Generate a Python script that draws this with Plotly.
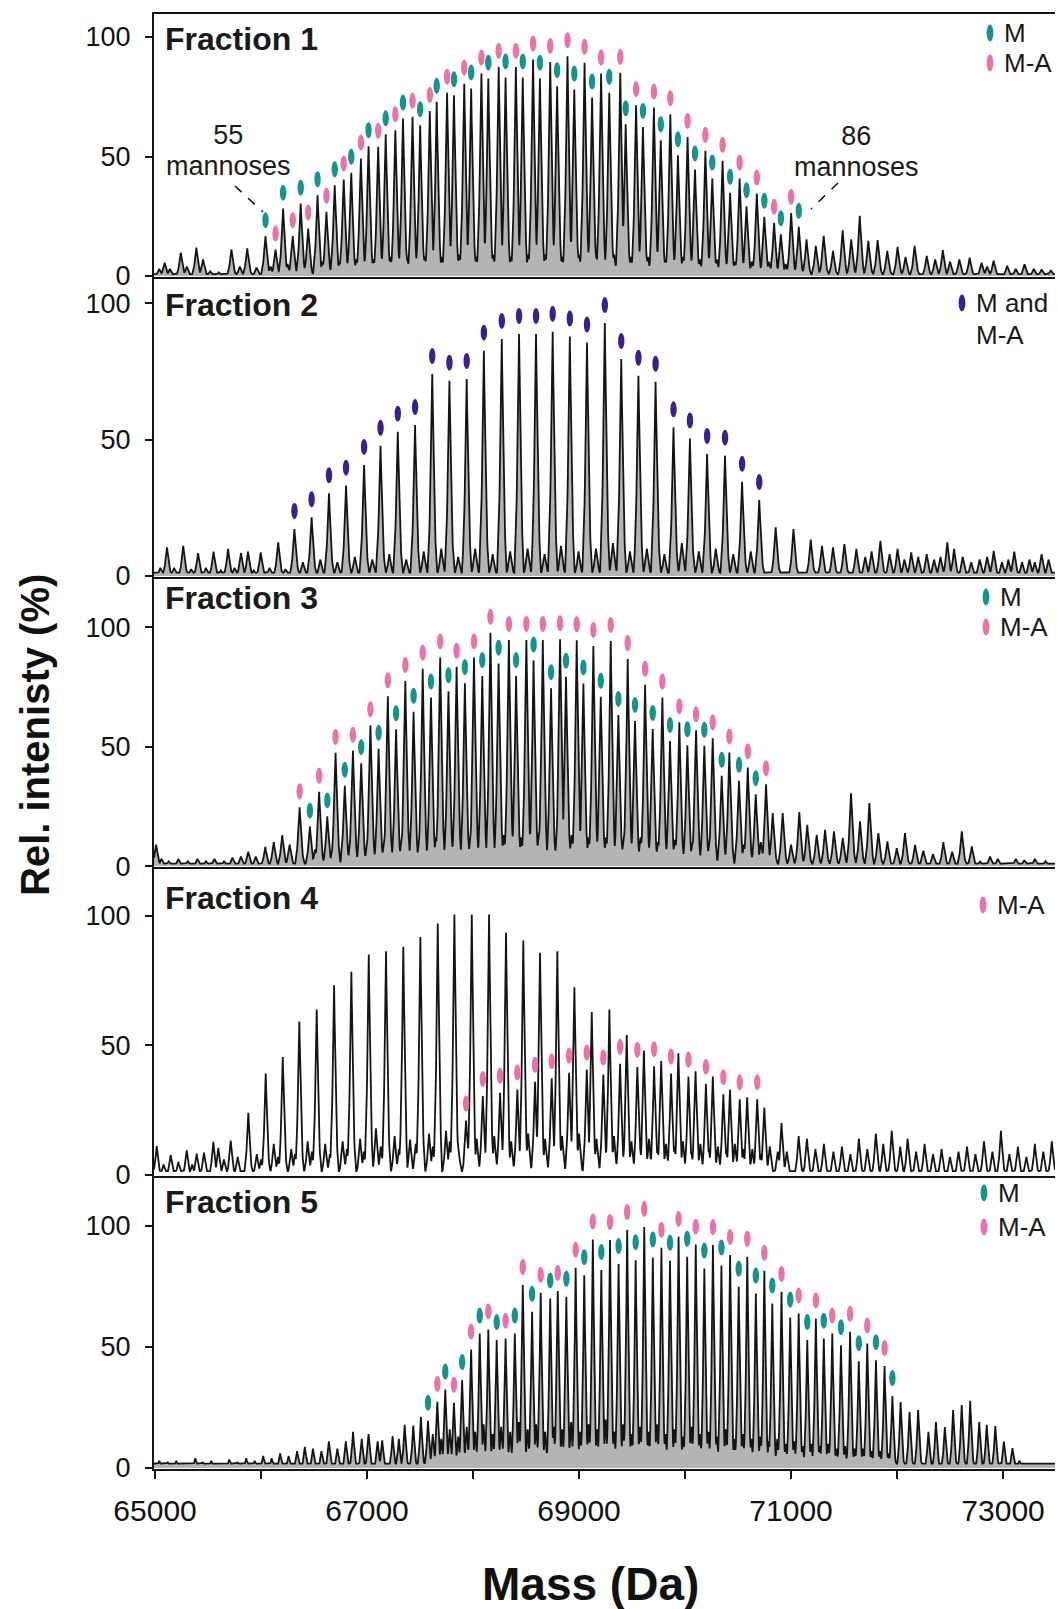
import numpy as np
import plotly.graph_objects as go

# ====================== DATA ======================
# ---- Fraction 1 ----
f1_m_mass = [66042, 66208, 66374, 66533, 66695, 66851, 67014, 67176, 67339, 67501, 67657, 67820, 67982, 68144,
             68307, 68469, 68631, 68793, 68955, 69123, 69285, 69440, 69603, 69771, 69933, 70094, 70257, 70425,
             70580, 70748, 70904, 71073]
f1_m_int = [16.7, 28.2, 30.3, 33.8, 38.0, 43.2, 54.3, 59.3, 65.9, 63.1, 72.9, 75.6, 78.5, 82.6, 83.1, 83.1,
            82.6, 79.4, 78.0, 74.7, 76.7, 63.5, 62.4, 56.8, 50.5, 44.6, 40.8, 34.8, 29.2, 24.8, 17.5, 20.6]
f1_ma_mass = [66137, 66299, 66445, 66617, 66780, 66942, 67105, 67267, 67429, 67592, 67755, 67917, 68079, 68242,
              68404, 68566, 68728, 68891, 69052, 69208, 69389, 69538, 69706, 69861, 70024, 70192, 70354, 70515,
              70677, 70840, 71001]
f1_ma_int = [11.1, 16.7, 19.9, 26.9, 40.4, 49.2, 54.1, 61.0, 66.6, 69.1, 76.7, 80.5, 84.7, 87.5, 87.5, 90.6,
             89.6, 92.0, 89.2, 84.7, 85.0, 71.5, 70.5, 67.7, 58.2, 52.4, 48.2, 40.8, 34.5, 22.3, 26.4]
f1_other_mass = [65040, 65091, 65140, 65243, 65300, 65390, 65453, 65520, 65600, 65721, 65800, 65870, 65958,
                 66090, 66250, 66420, 66580, 66740, 66900, 67060, 67220, 67380, 67545, 67705, 67870, 68030,
                 68190, 68355, 68520, 68680, 68840, 69000, 69165, 69330, 69490, 69650, 69815, 69980, 70140,
                 70300, 70470, 70630, 70790, 70950,
                 71146, 71234, 71308, 71396, 71487, 71568, 71648, 71729, 71817, 71908, 72005, 72080, 72166,
                 72280, 72360, 72432, 72500, 72588, 72685, 72798, 72850, 72911, 73040, 73120, 73203, 73290,
                 73364, 73450]
f1_other_int = [3.0, 5.6, 3.0, 9.8, 4.0, 11.9, 7.0, 2.0, 1.5, 11.2, 4.0, 11.6, 3.6,
                4, 5, 5, 6, 6, 7, 7, 8, 7, 8, 8, 9, 8, 9, 8, 9, 9, 8, 9, 8, 9, 8, 8, 7, 8, 7, 7, 6, 6, 6, 5,
                15.4, 12.6, 16.8, 10.5, 19.1, 15.4, 25.2, 14.7, 15.0, 10.5, 12.2, 8.0, 12.6,
                8.4, 7.0, 10.8, 6.0, 7.0, 7.7, 5.6, 4.0, 6.4, 4.3, 3.0, 4.9, 3.0, 2.8, 2.5]

# ---- Fraction 2 (M and M-A unresolved) ----
f2_mma_mass = [66315, 66477, 66641, 66802, 66972, 67127, 67290, 67453, 67615, 67777, 67940, 68102, 68271, 68434,
               68594, 68751, 68913, 69075, 69243, 69398, 69560, 69722, 69891, 70046, 70208, 70377, 70538, 70700]
f2_mma_int = [17.2, 21.5, 30.3, 33.1, 40.7, 47.7, 52.9, 55.3, 74.0, 71.6, 72.2, 82.6, 86.9, 88.7, 88.7, 89.5,
              87.8, 85.6, 92.7, 79.5, 73.4, 71.2, 54.5, 50.4, 44.7, 44.1, 34.5, 27.8]
f2_other_mass = [65050, 65113, 65180, 65266, 65340, 65406, 65480, 65552, 65620, 65689, 65750, 65811, 65877,
                 65930, 65997, 66080, 66162, 66230,
                 66395, 66560, 66720, 66885, 67050, 67210, 67370, 67535, 67700, 67860, 68020, 68185, 68350,
                 68515, 68675, 68830, 68995, 69160, 69320, 69480, 69640, 69805, 69970, 70130, 70290, 70455, 70620,
                 70855, 71023, 71186, 71292, 71396, 71503, 71616, 71700, 71760, 71843, 71930, 72005, 72070,
                 72134, 72200, 72280, 72350, 72410, 72474, 72538, 72620, 72700, 72780, 72850, 72912, 72990,
                 73050, 73106, 73180, 73250, 73300, 73364, 73430]
f2_other_int = [3, 10.5, 3, 11, 2.5, 8.4, 3, 8.9, 2, 9.9, 3, 8.4, 8.9, 2, 8.6, 3, 12.3, 2.5,
                5, 6, 5, 7, 6, 8, 6, 9, 10, 7, 10, 8, 9, 10, 8, 11, 9, 10, 12, 9, 10, 8, 12, 9, 10, 8, 9,
                17.8, 17.2, 13.3, 11, 10.5, 11.7, 9.9, 7, 9, 12.9, 8, 9.9, 6, 8.6, 7, 8, 6, 7, 12.3, 9.9,
                7, 5, 6, 7, 9.2, 5, 6, 8.9, 5, 6, 5, 8, 6]

# ---- Fraction 3 ----
f3_m_mass = [66461, 66625, 66790, 66945, 67109, 67274, 67439, 67603, 67768, 67923, 68087, 68241, 68406, 68571,
             68736, 68877, 69041, 69205, 69371, 69528, 69695, 69858, 70022, 70182, 70346, 70509, 70667]
f3_m_int = [16.5, 20.8, 33.6, 43.1, 49.1, 57.3, 64.6, 70.6, 73.2, 76.6, 79.6, 84.8, 79.6, 86.1, 74.5, 79.3,
            76.5, 70.9, 63.3, 60.8, 57.4, 52.4, 50.6, 50.4, 37.8, 35.7, 30.1]
f3_ma_mass = [66364, 66548, 66703, 66867, 67032, 67196, 67361, 67525, 67690, 67845, 68009, 68164, 68338, 68503,
              68658, 68821, 68978, 69135, 69299, 69459, 69623, 69786, 69946, 70104, 70261, 70418, 70592, 70764]
f3_ma_int = [24.6, 31.1, 47.4, 48.3, 59.0, 71.1, 77.5, 82.7, 87.4, 83.5, 87.4, 97.7, 94.7, 94.7, 94.7, 95.0,
             94.6, 92.2, 94.3, 86.7, 75.9, 70.6, 60.2, 56.9, 53.5, 47.6, 41.3, 34.3]
f3_other_mass = [65010, 65060, 65130, 65220, 65310, 65400, 65480, 65560, 65650, 65730, 65810, 65880, 65950,
                 66040, 66120, 66200, 66270,
                 66510, 66675, 66840, 67000, 67160, 67325, 67490, 67650, 67815, 67975, 68140, 68290, 68455,
                 68620, 68790, 68930, 69090, 69255, 69420, 69580, 69745, 69905, 70070, 70230, 70395, 70555, 70715,
                 70827, 70921, 71000, 71078, 71153, 71242, 71321, 71405, 71488, 71566, 71651, 71739, 71824,
                 71909, 71997, 72075, 72170, 72248, 72340, 72437, 72520, 72611, 72705, 72783, 72877, 72950,
                 73035, 73120, 73200, 73300, 73400]
f3_other_int = [9, 3, 2, 3, 2, 3, 2, 3, 2, 3.5, 4, 6, 4, 8, 10, 13, 9,
                7, 8, 9, 9, 10, 11, 10, 12, 11, 12, 12, 13, 12, 13, 12, 13, 12, 12, 11, 12, 10, 11, 10, 10, 9, 9, 10,
                22.2, 22.2, 9, 22.6, 17.3, 13.1, 15.2, 14.5, 11.7, 30.5, 18.7, 26.4, 13.8, 10.3, 7.5, 13.8, 8.9,
                6.4, 5, 10, 6, 14.5, 8.2, 1.9, 4, 3, 1.2, 3, 2.5, 3, 2]

# ---- Fraction 4 ----
f4_main_mass = [65880, 66044, 66205, 66361, 66525, 66689, 66852, 67016, 67179, 67342, 67503, 67667, 67824, 67988,
                68151, 68311, 68474, 68632, 68795, 68956, 69120, 69286, 69450, 69612, 69775, 69937, 70099, 70262,
                70424, 70586, 70748, 70910, 71072]
f4_main_int = [24.0, 39.2, 45.5, 59.2, 63.9, 73.2, 78.5, 85.1, 86.4, 88.1, 91.9, 97.1, 100.6, 100.6, 100.6,
               93.5, 90.5, 85.8, 86.4, 72.5, 62.9, 63.9, 54.0, 48.0, 44.0, 47.0, 40.0, 38.0, 33.0, 30.0, 26.0,
               20.0, 15.0]
f4_ma_mass = [67934, 68092, 68255, 68418, 68585, 68742, 68906, 69073, 69229, 69387, 69550, 69708, 69868, 70032,
              70197, 70361, 70516, 70681]
f4_ma_int = [21.0, 30.5, 31.7, 33.0, 36.0, 37.3, 39.5, 40.7, 38.8, 42.9, 41.7, 42.0, 39.2, 38.0, 35.2, 31.2,
             29.2, 29.2]
f4_other_mass = [65016, 65080, 65148, 65220, 65299, 65350, 65393, 65462, 65550, 65597, 65650, 65714, 65780,
                 65960, 66120, 66285, 66440, 66605, 66770, 66935, 67084, 67260, 67406, 67585, 67745,
                 67860, 68035, 68200, 68360, 68520, 68680, 68840, 69000, 69165, 69330, 69495, 69660, 69820,
                 69980, 70145, 70310, 70470, 70635, 70800, 70960,
                 66000, 66160, 66320, 66480, 66650, 66810, 66970, 67130, 67300, 67460, 67620, 67780, 67950,
                 68110, 68270, 68430, 68600, 68760, 68920, 69080, 69245, 69410, 69575, 69740, 69900, 70060,
                 70225, 70390, 70550, 70715, 70875,
                 71150, 71230, 71310, 71400, 71480, 71560, 71640, 71720, 71800, 71870, 71950, 72030, 72100,
                 72180, 72260, 72340, 72420, 72500, 72580, 72660, 72740, 72820, 72900, 72980, 73060, 73140,
                 73220, 73300, 73380, 73460]
f4_other_int = [11.2, 4, 7.7, 5, 9.5, 4, 8.2, 8.6, 12.8, 10.5, 6, 13.3, 7,
                8, 12, 10, 13, 12, 13, 14, 18, 15, 13.7, 16, 17,
                12, 14, 15, 13, 16, 14, 15, 16, 14, 15, 13, 14, 12, 13, 12, 11, 12, 10, 11, 9,
                6, 7, 8, 9, 8, 10, 9, 11, 10, 12, 11, 13, 12, 11, 13, 12, 11, 13, 12, 11, 12, 10, 11, 10,
                11, 9, 10, 9, 10, 8, 9,
                14, 10, 12, 9, 11, 8, 14, 10, 16, 12, 17, 11, 14, 9, 12, 8, 10, 7, 9, 11, 8, 13, 9, 17, 8,
                11, 7, 12, 9, 13]

# ---- Fraction 5 ----
f5_m_mass = [67575, 67738, 67897, 68063, 68223, 68394, 68557, 68728, 68880, 69049, 69210, 69373, 69534, 69696,
             69858, 70020, 70182, 70343, 70506, 70668, 70823, 70992, 71153, 71309, 71471, 71639, 71801, 71956]
f5_m_int = [19.5, 32.4, 36.3, 55.5, 52.8, 55.5, 64.5, 70.0, 70.7, 79.6, 81.7, 84.2, 85.8, 86.9, 85.5, 87.2,
            82.3, 83.6, 74.8, 72.0, 67.9, 62.1, 52.8, 53.4, 50.7, 44.1, 44.5, 29.7]
f5_ma_mass = [67663, 67820, 67982, 68144, 68307, 68469, 68638, 68799, 68968, 69130, 69292, 69454, 69615, 69777,
              69939, 70101, 70263, 70425, 70587, 70748, 70910, 71072, 71234, 71389, 71557, 71719, 71882]
f5_ma_int = [27.3, 26.9, 48.9, 57.2, 53.4, 75.5, 72.3, 73.1, 82.7, 94.3, 94.1, 98.2, 99.5, 90.9, 95.4, 92.2,
             92.0, 87.9, 87.2, 81.4, 72.7, 63.8, 61.7, 55.5, 56.2, 51.4, 42.1]
f5_other_mass = [65040, 65120, 65200, 65290, 65380, 65450, 65530, 65610, 65700, 65780, 65860, 65940, 66020,
                 66100, 66180, 66260, 66340, 66413, 66490, 66570, 66640, 66720, 66800, 66868, 66950, 67014,
                 67100, 67143, 67241, 67300, 67355, 67436, 67508,
                 67620, 67700, 67780, 67860, 67940, 68020, 68100, 68185, 68265, 68350, 68430, 68515, 68595,
                 68680, 68760, 68840, 68925, 69010, 69090, 69170, 69250, 69330, 69415, 69495, 69575, 69655,
                 69735, 69815, 69900, 69980, 70060, 70140, 70220, 70300, 70385, 70465, 70545, 70625, 70710,
                 70790, 70870, 70950, 71030, 71110, 71190, 71270, 71350, 71430, 71510, 71600, 71680, 71760,
                 71840, 71920,
                 72034, 72118, 72199, 72296, 72367, 72451, 72529, 72610, 72690, 72775, 72846, 72927, 73008,
                 73089, 73154, 73250, 73330, 73420]
f5_other_int = [3, 2.5, 3, 2, 4, 2.5, 3, 2, 3.5, 2.5, 4, 3, 5, 4, 6, 5, 7, 8.7, 8, 7, 11, 8, 11, 15, 12, 14,
                11, 11.4, 13.2, 12, 17.8, 17.5, 21,
                14, 12, 16, 13, 17, 15, 18, 14, 17, 15, 19, 16, 18, 15, 17, 16, 19, 15, 18, 16, 20, 15, 18,
                14, 17, 15, 18, 14, 16, 13, 17, 14, 15, 13, 16, 12, 14, 12, 13, 11, 12, 10, 11, 9, 10, 9, 10,
                8, 9, 8, 8, 7, 7, 6,
                27.2, 23.2, 23.9, 14.9, 19, 16.9, 23.9, 26, 27.7, 19, 17.8, 17.3, 10.9, 8.2, 3.1, 2, 1.7, 2]

fraction_labels = ["Fraction 1", "Fraction 2", "Fraction 3", "Fraction 4", "Fraction 5"]
x_tick_vals = [65000, 66000, 67000, 68000, 69000, 70000, 71000, 72000, 73000]
x_tick_text = ["65000", "", "67000", "", "69000", "", "71000", "", "73000"]
y_tick_vals = [0, 50, 100]

# ====================== STYLE / LAYOUT CONSTANTS ======================
W, H = 1058, 1609
PX_L, PX_R, PX_T, PX_B = 154, 1055, 14, 1469
XR = [64990, 73490]
PANEL_PX = [(14, 277), (277, 577), (577, 867), (867, 1176), (1176, 1469)]
PPU = [2.39, 2.727, 2.387, 2.59, 2.423]          # px per intensity unit per panel
GAP_PX = [16, 18, 16, 17, 18]                    # marker offset above peak top
PEAK_SCALE = [1.0, 1.0, 1.0, 0.9, 0.8]           # peak width scale per panel
FLOOR = [0.8, 1.2, 1.0, 1.5, 1.8]
FILLED = [True, True, True, False, True]
# peak profile (offset in Da, relative height): sharp tip, broad skirt
PROF_OFF = [-46, -28, -15, 0, 15, 28, 46]
PROF_REL = [0.0, 0.2, 0.5, 1.0, 0.5, 0.2, 0.0]

TEAL = "#14948f"
PINK = "#ec70aa"
PURPLE = "#3b1f8e"
FILLC = "#b4b4b4"
LINEC = "#141414"
FONT = "Liberation Sans, Arial, sans-serif"

PXW = PX_R - PX_L
PXH = PX_B - PX_T
DA_PER_PX = (XR[1] - XR[0]) / PXW


def paper_x(px):
    return (px - PX_L) / PXW


def paper_y(py):
    return (PX_B - py) / PXH


def build_curve(masses, ints, scale, floor):
    masses = np.asarray(masses, float)
    ints = np.asarray(ints, float)
    off = np.asarray(PROF_OFF, float) * scale
    rel = np.asarray(PROF_REL, float)
    xs = np.union1d(np.arange(XR[0], XR[1] + 1, 3.0), masses)
    ys = np.full(xs.shape, float(floor))
    for m, h in zip(masses, ints):
        lo = np.searchsorted(xs, m + off[0])
        hi = np.searchsorted(xs, m + off[-1], side="right")
        seg = np.interp(xs[lo:hi] - m, off, rel * h)
        ys[lo:hi] = np.maximum(ys[lo:hi], seg)
    return xs, ys


panels = [
    dict(peaks=[(f1_m_mass, f1_m_int), (f1_ma_mass, f1_ma_int), (f1_other_mass, f1_other_int)],
         marks=[(f1_m_mass, f1_m_int, TEAL), (f1_ma_mass, f1_ma_int, PINK)]),
    dict(peaks=[(f2_mma_mass, f2_mma_int), (f2_other_mass, f2_other_int)],
         marks=[(f2_mma_mass, f2_mma_int, PURPLE)]),
    dict(peaks=[(f3_m_mass, f3_m_int), (f3_ma_mass, f3_ma_int), (f3_other_mass, f3_other_int)],
         marks=[(f3_m_mass, f3_m_int, TEAL), (f3_ma_mass, f3_ma_int, PINK)]),
    dict(peaks=[(f4_main_mass, f4_main_int), (f4_ma_mass, f4_ma_int), (f4_other_mass, f4_other_int)],
         marks=[(f4_ma_mass, f4_ma_int, PINK)]),
    dict(peaks=[(f5_m_mass, f5_m_int), (f5_ma_mass, f5_ma_int), (f5_other_mass, f5_other_int)],
         marks=[(f5_m_mass, f5_m_int, TEAL), (f5_ma_mass, f5_ma_int, PINK)]),
]

fig = go.Figure()
shapes = []
annotations = []
layout = dict(width=W, height=H, margin=dict(l=PX_L, r=W - PX_R, t=PX_T, b=H - PX_B, pad=0),
              paper_bgcolor="white", plot_bgcolor="white", showlegend=False,
              font=dict(family=FONT, color="#111111"))

RX = 3.2 * DA_PER_PX   # ellipse half width in Da
for k, p in enumerate(panels):
    xa = "x" if k == 0 else f"x{k + 1}"
    ya = "y" if k == 0 else f"y{k + 1}"
    top, bot = PANEL_PX[k]
    yr = [-0.4, -0.4 + (bot - top) / PPU[k]]
    allm, alli = [], []
    for ms, ints in p["peaks"]:
        allm += list(ms); alli += list(ints)
    xs, ys = build_curve(allm, alli, PEAK_SCALE[k], FLOOR[k])
    fig.add_trace(go.Scatter(x=xs, y=ys, mode="lines", xaxis=xa, yaxis=ya,
                             line=dict(color=LINEC, width=1.8),
                             fill="tozeroy" if FILLED[k] else None,
                             fillcolor=FILLC, hoverinfo="skip"))
    ry = 8.0 / PPU[k]
    for ms, ints, col in p["marks"]:
        for m, h in zip(ms, ints):
            cy = h + GAP_PX[k] / PPU[k]
            shapes.append(dict(type="circle", xref=xa, yref=ya, x0=m - RX, x1=m + RX,
                               y0=cy - ry, y1=cy + ry, fillcolor=col, line=dict(width=0), layer="above"))

    xkey = "xaxis" if k == 0 else f"xaxis{k + 1}"
    ykey = "yaxis" if k == 0 else f"yaxis{k + 1}"
    xax = dict(domain=[0, 1], anchor=ya, range=XR, showline=True, linecolor=LINEC, linewidth=2,
               mirror=(k == 0), showgrid=False, zeroline=False, fixedrange=True)
    if k == 4:
        xax.update(tickmode="array", tickvals=x_tick_vals, ticktext=x_tick_text, ticks="outside",
                   ticklen=8, tickwidth=2, tickcolor=LINEC, tickfont=dict(family=FONT, size=30, color="#111"),
                   ticklabelstandoff=6)
    else:
        xax.update(showticklabels=False, ticks="")
    layout[xkey] = xax
    layout[ykey] = dict(domain=[paper_y(bot), paper_y(top)], anchor=xa, range=yr, tickmode="array",
                        tickvals=y_tick_vals, ticks="outside", ticklen=7, tickwidth=2, tickcolor=LINEC,
                        showline=True, linecolor=LINEC, linewidth=2, showgrid=False, zeroline=False,
                        tickfont=dict(family=FONT, size=27, color="#111"), ticklabelstandoff=9,
                        fixedrange=True)

# Fraction labels
frac_y = [38.5, 305, 598, 898, 1201.5]
for lab, py in zip(fraction_labels, frac_y):
    annotations.append(dict(text=f"<b>{lab}</b>", xref="paper", yref="paper", x=paper_x(163), y=paper_y(py),
                            xanchor="left", yanchor="middle", showarrow=False,
                            font=dict(family=FONT, size=32, color="#1a1a1a")))


def legend_item(cx, cy, color, text, dy_text=0):
    shapes.append(dict(type="circle", xref="paper", yref="paper",
                       x0=paper_x(cx - 3.4), x1=paper_x(cx + 3.4),
                       y0=paper_y(cy + 8.5), y1=paper_y(cy - 8.5),
                       fillcolor=color, line=dict(width=0)))
    annotations.append(dict(text=text, xref="paper", yref="paper", x=paper_x(cx + 12), y=paper_y(cy + dy_text),
                            xanchor="left", yanchor="middle", showarrow=False,
                            font=dict(family=FONT, size=26, color="#1a1a1a")))


legend_item(990, 33, TEAL, "M")
legend_item(990, 63, PINK, "M-A")
# two-line legend label of Fraction 2
shapes.append(dict(type="circle", xref="paper", yref="paper", x0=paper_x(958.6), x1=paper_x(965.4),
                   y0=paper_y(311.5), y1=paper_y(294.5), fillcolor=PURPLE, line=dict(width=0)))
annotations.append(dict(text="<span style='font-size:26px'>M and<br>M-A</span>", xref="paper", yref="paper",
                        x=paper_x(974), y=paper_y(286), xanchor="left", yanchor="top", showarrow=False,
                        align="left", font=dict(family=FONT, size=24.5, color="#1a1a1a")))
legend_item(986, 597, TEAL, "M")
legend_item(986, 627, PINK, "M-A")
legend_item(983, 905, PINK, "M-A")
legend_item(984, 1193, TEAL, "M")
legend_item(984, 1227, PINK, "M-A")

# mannose annotations (tight two-line labels)
for txt, cx, cy in [("55<br>mannoses", 228, 150), ("86<br>mannoses", 856, 151)]:
    annotations.append(dict(text=f"<span style='font-size:27px'>{txt}</span>", xref="paper", yref="paper",
                            x=paper_x(cx), y=paper_y(cy), xanchor="center", yanchor="middle",
                            showarrow=False, align="center",
                            font=dict(family=FONT, size=23.5, color="#1a1a1a")))
for (x0, y0, x1, y1) in [(235, 186, 263, 212), (838, 183, 811, 209)]:
    shapes.append(dict(type="line", xref="paper", yref="paper", x0=paper_x(x0), y0=paper_y(y0),
                       x1=paper_x(x1), y1=paper_y(y1), line=dict(color="#111", width=1.6, dash="dash")))

# axis titles
annotations.append(dict(text="<b>Rel. intenisty (%)</b>", xref="paper", yref="paper", x=paper_x(35),
                        y=paper_y(735), textangle=-90, showarrow=False, xanchor="center", yanchor="middle",
                        font=dict(family=FONT, size=40, color="#111")))
annotations.append(dict(text="<b>Mass (Da)</b>", xref="paper", yref="paper", x=paper_x(590),
                        y=paper_y(1584), showarrow=False, xanchor="center", yanchor="middle",
                        font=dict(family=FONT, size=46, color="#111")))

layout["shapes"] = shapes
layout["annotations"] = annotations
fig.update_layout(**layout)
fig.write_html("out.html", config={"displayModeBar": False, "staticPlot": True},
               post_script="document.body.style.margin='0px';document.body.style.padding='0px';"
                           "document.documentElement.style.overflow='hidden';")
